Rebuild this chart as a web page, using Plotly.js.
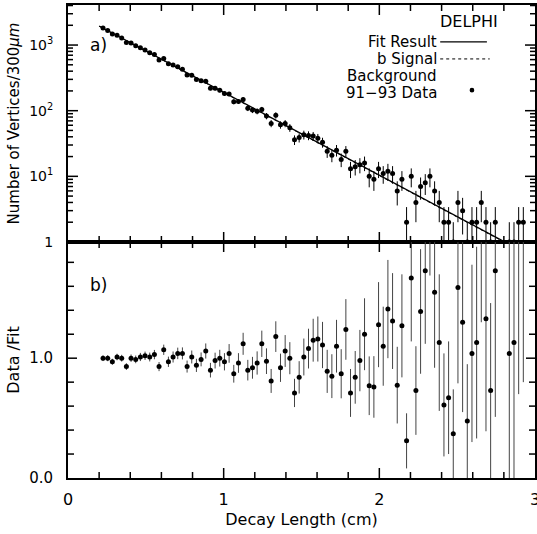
<!DOCTYPE html>
<html>
<head>
<meta charset="utf-8">
<script src="https://cdn.plot.ly/plotly-3.0.1.min.js"></script>
<style>html,body{margin:0;padding:0;background:#fff;}#chart{width:537px;height:534px;}</style>
</head>
<body>
<div id="chart"></div>
<script>
// Bin centres of decay length (cm), 300 um bins
const decayLength = [0.225,0.255,0.285,0.315,0.345,0.375,0.405,0.435,0.465,0.495,
0.525,0.555,0.585,0.615,0.645,0.675,0.705,0.735,0.765,0.795,
0.825,0.855,0.885,0.915,0.945,0.975,1.005,1.035,1.065,1.095,
1.125,1.155,1.185,1.215,1.245,1.275,1.305,1.335,1.365,1.395,
1.425,1.455,1.485,1.515,1.545,1.575,1.605,1.635,1.665,1.695,
1.725,1.755,1.785,1.815,1.845,1.875,1.905,1.935,1.965,1.995,
2.025,2.055,2.085,2.115,2.145,2.175,2.205,2.235,2.265,2.295,
2.325,2.355,2.385,2.415,2.445,2.475,2.505,2.535,2.565,2.595,
2.625,2.655,2.685,2.715,2.745,2.775,2.805,2.835,2.865,2.895,
2.925,2.955];

// Panel a) : number of vertices per bin (91-93 data)
const vertices = [1811,1661,1475,1408,1278,1089,1073,973,911,843,
765,715,591,624,518,495,467,427,351,348,
298,287,282,220,219,205,182,179,137,138,
148,109,102,98,104,83,64,85,61,64,
55,36,39,43,42,41,38,33,24,21,
25,18,24,13,14,15,16,10,9,13,
11,12,11,6,9,2,10,4,7,8,
10,6,4,2,2,1,4,3,1,2,
2,4,2,1,2,null,null,1,1,2,
2,null];
const verticesErr = [42.6,40.8,38.4,37.5,35.7,33,32.8,31.2,30.2,29,
27.7,26.7,24.3,25,22.8,22.2,21.6,20.7,18.7,18.7,
17.3,16.9,16.8,14.8,14.8,14.3,13.5,13.4,11.7,11.7,
12.2,10.4,10.1,9.9,10.2,9.1,8,9.2,7.8,8,
7.4,6,6.2,6.6,6.5,6.4,6.2,5.7,4.9,4.6,
5,4.2,4.9,3.6,3.7,3.9,4,3.2,3,3.6,
3.3,3.5,3.3,2.4,3,1.4,3.2,2,2.6,2.8,
3.2,2.4,2,1.4,1.4,1,2,1.7,1,1.4,
1.4,2,1.4,1,1.4,null,null,1,1,1.4,
1.4,null];

// Fit result, b signal (lines)
const fitX = [0.2, 3.0];
const fitY = [1950, 0.57];
const signalX = [0.2, 3.0];
const signalY = [1930, 0.56];

// Panel b) : Data / Fit
const ratio = [1.00,1.00,0.97,1.01,1.00,0.93,1.00,0.99,1.01,1.02,
1.01,1.03,0.93,1.07,0.97,1.01,1.04,1.04,0.93,1.01,
0.94,0.99,1.06,0.90,0.98,1.00,0.97,1.04,0.87,0.96,
1.12,0.90,0.92,0.96,1.12,0.975,0.81,1.18,0.92,1.06,
1.00,0.71,0.84,1.01,1.08,1.15,1.16,1.11,0.89,0.85,
1.10,0.87,1.24,0.71,0.84,0.98,1.20,0.77,0.76,1.28,
1.10,1.41,1.31,0.775,1.27,0.31,1.67,0.73,1.39,1.73,
2.47,1.55,1.13,0.61,0.67,0.37,1.59,1.30,0.475,1.04,
1.13,2.6,1.33,0.73,1.73,null,null,1.04,1.13,2.4,
2.6,null];
const ratioErr = [.024,.025,.025,.027,.028,.028,.031,.032,.034,.035,
.037,.039,.038,.043,.043,.046,.048,.05,.05,.054,
.055,.058,.063,.061,.066,.07,.072,.078,.074,.082,
.092,.086,.091,.097,.11,.107,.10,.128,.118,.133,
.134,.118,.135,.154,.166,.179,.188,.193,.18,.183,
.22,.205,.253,.2,.22,.256,.30,.245,.257,.355,
.33,.41,.40,.32,.43,.23,.53,.37,.52,.61,
.78,.63,.57,.43,.47,.37,.80,.75,.475,.74,
.80,1.3,.94,.73,1.22,null,null,1.04,1.13,1.7,
1.8,null];

const xTickVals = [0,1,2,3];
const xTickText = ['0','1','2','3'];
const xMinorTicks = [0.2,0.4,0.6,0.8,1.2,1.4,1.6,1.8,2.2,2.4,2.6,2.8];
const logTickVals = [1,10,100,1000];
const logTickText = ['1','10<sup>1</sup>','10<sup>2</sup>','10<sup>3</sup>'];
const logMinor = [2,3,4,5,6,7,8,9,20,30,40,50,60,70,80,90,200,300,400,500,600,700,800,900,2000,3000,4000];
const ratioTickVals = [0,1];
const ratioTickText = ['0.0','1.0'];
const ratioMinor = [0.2,0.4,0.6,0.8,1.2,1.4,1.6,1.8];

const FONT = 'DejaVu Sans, Arial, sans-serif';
const INK = '#000000';
const W = 537, H = 534;
const M = {l:68, r:2, t:5, b:56};
const PW = W - M.l - M.r;     // plot width in px
const PH = H - M.t - M.b;     // plot height in px
const SPLIT = 0.499;          // paper y of the shared middle axis
const X_MAX = 3;
const LOG_TOP = 3.61;         // log10 range top of panel a)
const RATIO_TOP = 1.97;       // range top of panel b)

const traces = [
  {x: signalX, y: signalY, xaxis:'x', yaxis:'y', mode:'lines', line:{color:INK, width:1, dash:'dot'}, hoverinfo:'skip'},
  {x: fitX, y: fitY, xaxis:'x', yaxis:'y', mode:'lines', line:{color:INK, width:1.3}, hoverinfo:'skip'},
  {x: decayLength, y: vertices, xaxis:'x', yaxis:'y', mode:'markers',
   marker:{color:INK, size:5},
   error_y:{type:'data', array: verticesErr, visible:true, color:INK, thickness:1, width:0}},
  {x: decayLength, y: ratio, xaxis:'x2', yaxis:'y2', mode:'markers',
   marker:{color:INK, size:5},
   error_y:{type:'data', array: ratioErr, visible:true, color:'#444', thickness:1, width:0}}
];

// Tick marks as paper-referenced line shapes (frame decoration)
const shapes = [];
function tickShape(x0, x1, y0, y1) {
  return {type:'line', xref:'paper', yref:'paper', x0:x0, x1:x1, y0:y0, y1:y1, line:{color:INK, width:1.5}, layer:'above'};
}
function xTicks(vals, lenPx) {
  const dy = lenPx / PH;
  vals.forEach(function(v) {
    if (v <= 0 || v >= X_MAX) return;
    const px = v / X_MAX;
    shapes.push(tickShape(px, px, 0, dy));                  // bottom edge, pointing up
    shapes.push(tickShape(px, px, 1, 1 - dy));              // top edge, pointing down
    shapes.push(tickShape(px, px, SPLIT - dy, SPLIT + dy)); // middle, crossing
  });
}
function yTicks(paperYs, lenPx) {
  const dx = lenPx / PW;
  paperYs.forEach(function(p) {
    shapes.push(tickShape(0, dx, p, p));
    shapes.push(tickShape(1, 1 - dx, p, p));
  });
}
xTicks(xTickVals, 10);
xTicks(xMinorTicks, 6);
const logToPaper = v => SPLIT + (1 - SPLIT) * Math.log10(v) / LOG_TOP;
yTicks(logTickVals.filter(v => v > 1).map(logToPaper), 10);
yTicks(logMinor.map(logToPaper), 5);
const ratioToPaper = v => SPLIT * v / RATIO_TOP;
yTicks(ratioTickVals.filter(v => v > 0).map(ratioToPaper), 9);
yTicks(ratioMinor.map(ratioToPaper), 6);

// legend samples
shapes.push({type:'line', xref:'paper', yref:'paper', x0:0.797, x1:0.897, y0:0.922, y1:0.922, line:{color:INK, width:1.3}});
shapes.push({type:'line', xref:'paper', yref:'paper', x0:0.797, x1:0.903, y0:0.886, y1:0.886, line:{color:INK, width:1, dash:'dot'}});
shapes.push({type:'circle', xref:'paper', yref:'paper', x0:0.860, x1:0.870, y0:0.815, y1:0.825, fillcolor:INK, line:{color:INK, width:0}});

const axisCommon = {showline:true, linewidth:2, linecolor:INK, mirror:true, showgrid:false, zeroline:false, ticks:''};

const layout = {
  width:W, height:H,
  margin:M,
  paper_bgcolor:'white', plot_bgcolor:'white',
  showlegend:false,
  font:{family:FONT, color:INK, size:15},
  xaxis: Object.assign({}, axisCommon, {domain:[0,1], anchor:'y', range:[0,X_MAX], tickmode:'array', tickvals:xTickVals,
    showticklabels:false}),
  yaxis: Object.assign({}, axisCommon, {domain:[SPLIT,1], anchor:'x', type:'log', range:[0,LOG_TOP], tickmode:'array',
    tickvals:logTickVals, ticktext:logTickText, ticklabelstandoff:10,
    tickfont:{size:14, family:FONT},
    title:{text:'Number of Vertices/300<i>μm</i>', font:{size:15, family:FONT}, standoff:6}}),
  xaxis2: Object.assign({}, axisCommon, {domain:[0,1], anchor:'y2', range:[0,X_MAX], tickmode:'array',
    tickvals:xTickVals, ticktext:xTickText, ticklabelstandoff:6, ticklabeloverflow:'allow',
    tickfont:{size:16, family:FONT},
    title:{text:'Decay Length (cm)', font:{size:16, family:FONT}, standoff:6}}),
  yaxis2: Object.assign({}, axisCommon, {domain:[0,SPLIT], anchor:'x2', range:[0,RATIO_TOP], tickmode:'array',
    tickvals:ratioTickVals, ticktext:ratioTickText, ticklabelstandoff:10,
    tickfont:{size:15, family:FONT},
    title:{text:'Data /Fit', font:{size:16, family:FONT}, standoff:6}}),
  annotations: [
    {xref:'paper', yref:'paper', x:0.042, y:0.915, xanchor:'left', yanchor:'middle', text:'a)', showarrow:false, font:{size:17, family:FONT}},
    {xref:'paper', yref:'paper', x:0.042, y:0.408, xanchor:'left', yanchor:'middle', text:'b)', showarrow:false, font:{size:17, family:FONT}},
    {xref:'paper', yref:'paper', x:0.925, y:0.966, xanchor:'right', yanchor:'middle', text:'DELPHI', showarrow:false, font:{size:16, family:FONT}},
    {xref:'paper', yref:'paper', x:0.792, y:0.921, xanchor:'right', yanchor:'middle', text:'Fit Result', showarrow:false, font:{size:15, family:FONT}, borderpad:0},
    {xref:'paper', yref:'paper', x:0.792, y:0.885, xanchor:'right', yanchor:'middle', text:'b Signal', showarrow:false, font:{size:15, family:FONT}, borderpad:0},
    {xref:'paper', yref:'paper', x:0.792, y:0.849, xanchor:'right', yanchor:'middle', text:'Background', showarrow:false, font:{size:15, family:FONT}, borderpad:0},
    {xref:'paper', yref:'paper', x:0.792, y:0.813, xanchor:'right', yanchor:'middle', text:'91\u221293 Data', showarrow:false, font:{size:15, family:FONT}, borderpad:0}
  ],
  shapes: shapes
};

Plotly.newPlot('chart', traces, layout, {staticPlot:true, displayModeBar:false});
</script>
</body>
</html>
